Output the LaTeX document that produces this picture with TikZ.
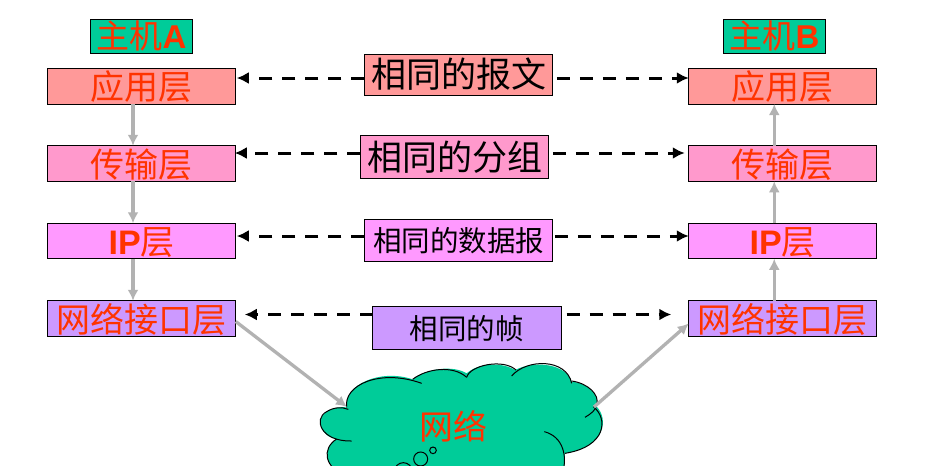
\documentclass[tikz,border=0pt]{standalone}
\usepackage{fontspec}
\setmainfont{Liberation Sans}
\newfontfamily\cjk{Noto Sans CJK SC}
\newfontfamily\latn{Liberation Sans}
\usetikzlibrary{arrows.meta}
\definecolor{cSalmon}{HTML}{FF9999}
\definecolor{cPink}{HTML}{FF99CC}
\definecolor{cMagenta}{HTML}{FF99FF}
\definecolor{cPurple}{HTML}{CC99FF}
\definecolor{cGreen}{HTML}{00CC99}
\definecolor{cRed}{HTML}{FF3300}
\definecolor{cGray}{HTML}{B2B2B2}
\newcommand{\lat}[1]{{\latn\bfseries #1}}
\tikzset{
  basebox/.style={draw=black,line width=1pt,inner sep=0pt,outer sep=0pt,anchor=center},
  layerbox/.style={basebox,minimum width=188pt,minimum height=35.5pt,text=cRed,font=\cjk\fontsize{34}{34}\selectfont,text height=28pt,text depth=1pt},
  hostbox/.style={basebox,fill=cGreen,minimum width=102.5pt,minimum height=34.5pt,text=cRed,font=\cjk\fontsize{33}{33}\selectfont,text height=27pt,text depth=3pt},
  samebox/.style={basebox,minimum width=188.5pt,text=black},
  bigtext/.style={font=\cjk\fontsize{35}{35}\selectfont,text height=28pt,text depth=2pt},
  smalltext/.style={font=\cjk\fontsize{28.5}{28.5}\selectfont,text height=25pt,text depth=2pt},
  peerline/.style={-{Latex[length=12pt,width=12pt]},black,line width=3pt,dash pattern=on 13pt off 10pt},
  flow/.style={-{Latex[length=11pt,width=11pt]},cGray,line width=3.3pt},
  cloudline/.style={draw=black,line width=1pt},
}
\begin{document}
\begin{tikzpicture}[x=1pt,y=-1pt]
\useasboundingbox (0,0) rectangle (930,466);
\clip (0,0) rectangle (930,466);
\fill[white] (0,0) rectangle (930,466);

% cloud
\begin{scope}[shift={(220,290)},x=0.33333pt,y=-0.33333pt]
\fill[cGreen] (380,352) .. controls (370,285) and (480,235) .. (578,268)
  .. controls (620,235) and (700,225) .. (740,250)
  .. controls (780,215) and (850,218) .. (885,240)
  .. controls (950,208) and (1040,225) .. (1055,275)
  .. controls (1105,280) and (1140,315) .. (1130,350)
  .. controls (1165,385) and (1160,470) .. (1035,490)
  .. controls (1035,510) and (1035,530) .. (1025,560)
  -- (385,560)
  .. controls (310,535) and (305,475) .. (350,447)
  .. controls (300,440) and (285,385) .. (320,365)
  .. controls (340,352) and (365,350) .. (380,352) -- cycle;
\draw[cloudline] (395,453) .. controls (300,455) and (280,385) .. (320,365) .. controls (340,352) and (365,350) .. (385,358);
\draw[cloudline] (380,352) .. controls (370,285) and (480,235) .. (605,280);
\draw[cloudline] (578,268) .. controls (620,235) and (700,225) .. (740,262);
\draw[cloudline] (740,262) .. controls (750,225) and (850,205) .. (888,240);
\draw[cloudline] (875,258) .. controls (920,205) and (1040,205) .. (1055,280);
\draw[cloudline] (1055,273) .. controls (1105,280) and (1140,315) .. (1130,345) .. controls (1128,360) and (1112,372) .. (1095,382);
\draw[cloudline] (1120,350) .. controls (1165,385) and (1160,470) .. (1035,490);
\draw[cloudline] (973,425) .. controls (1030,440) and (1045,500) .. (1025,560);
\draw[cloudline] (350,447) .. controls (305,475) and (310,535) .. (385,560);
\draw[cloudline] (639,481) circle (10);
\draw[cloudline] (602,507) circle (21);
\draw[cloudline] (550,545) circle (27);
\end{scope}
\node[text=cRed,inner sep=0pt,font=\cjk\fontsize{34}{34}\selectfont] (net) at (453,426) {网络};
\coordinate (cloudW) at (347,407);
\coordinate (cloudE) at (594,407);

% hosts
\node[hostbox] (hA) at (141.5,36.5) {主机\lat{A}};
\node[hostbox] (hB) at (774.5,36.5) {主机\lat{B}};

% layers
\node[layerbox,fill=cSalmon]  (a1) at (141.75,86.25) {应用层};
\node[layerbox,fill=cPink]    (a2) at (141.75,163.5) {传输层};
\node[layerbox,fill=cMagenta] (a3) at (141.75,241) {\lat{IP}层};
\node[layerbox,fill=cPurple]  (a4) at (141.75,318.5) {网络接口层};
\node[layerbox,fill=cSalmon]  (b1) at (782.75,86.25) {应用层};
\node[layerbox,fill=cPink]    (b2) at (782.75,163.5) {传输层};
\node[layerbox,fill=cMagenta] (b3) at (782.75,241) {\lat{IP}层};
\node[layerbox,fill=cPurple]  (b4) at (782.75,318.5) {网络接口层};

% same boxes
\node[samebox,bigtext,fill=cSalmon,minimum height=41pt]  (m1) at (458.5,74.5) {相同的报文};
\node[samebox,bigtext,fill=cPink,minimum height=43pt]    (m2) at (454.5,157) {相同的分组};
\node[samebox,smalltext,fill=cMagenta,minimum height=42pt] (m3) at (458.5,240) {相同的数据报};
\node[samebox,smalltext,fill=cPurple,minimum height=43pt]  (m4) at (466.75,327.5) {相同的帧};

% peer arrows
\draw[peerline] ([yshift=-3.5pt]m1.west) -- ([xshift=1pt,yshift=8.25pt]a1.east);
\draw[peerline] ([xshift=4pt,yshift=-3.5pt]m1.east) -- ([yshift=8.25pt]b1.west);
\draw[peerline] ([yshift=4pt]m2.west) -- ([xshift=-1pt,yshift=10.5pt]a2.east);
\draw[peerline] ([xshift=4pt,yshift=4pt]m2.east) -- ([xshift=-4pt,yshift=10.5pt]b2.west);
\draw[peerline] ([yshift=4pt]m3.west) -- ([xshift=1pt,yshift=5pt]a3.east);
\draw[peerline] ([xshift=2pt,yshift=4pt]m3.east) -- ([yshift=5pt]b3.west);
\draw[peerline] ([yshift=13pt]m4.west) -- ([xshift=9pt,yshift=4pt]a4.east);
\draw[peerline] ([xshift=5.5pt,yshift=13pt]m4.east) -- ([xshift=-17.5pt,yshift=4pt]b4.west);

% flows
\draw[flow] ([xshift=-8.75pt]a1.south) -- ([xshift=-8.75pt]a2.north);
\draw[flow] ([xshift=-8.75pt]a2.south) -- ([xshift=-8.75pt]a3.north);
\draw[flow] ([xshift=-8.75pt]a3.south) -- ([xshift=-8.75pt]a4.north);
\draw[flow] ([xshift=-8.5pt]b4.north) -- ([xshift=-8.5pt]b3.south);
\draw[flow] ([xshift=-8.5pt]b3.north) -- ([xshift=-8.5pt]b2.south);
\draw[flow] ([xshift=-8.5pt]b2.north) -- ([xshift=-8.5pt]b1.south);
\draw[flow] ([yshift=-3pt]a4.east) -- (cloudW);
\draw[flow] (cloudE) -- ([yshift=-5pt]b4.west);
\end{tikzpicture}
\end{document}
